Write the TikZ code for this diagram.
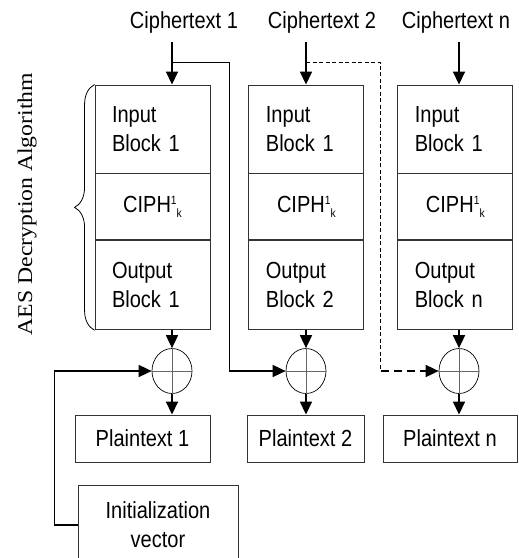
\documentclass[tikz,border=0pt]{standalone}
\usepackage{fontspec}
\newfontfamily\arialf{Liberation Sans}[FakeStretch=0.86]
\newfontfamily\timesf{Liberation Serif}[FakeStretch=1.13]
\usetikzlibrary{positioning,calc,shapes.geometric,arrows.meta,decorations.pathreplacing}
\newcommand{\ciphk}{CIPH\raisebox{8pt}{\fontsize{12}{12}\selectfont 1}\raisebox{-5pt}{\fontsize{12}{12}\selectfont k}}
\tikzset{txt/.style = {font=\arialf\fontsize{23.3}{28.7}\selectfont}}
\tikzset{cell/.style = {txt, draw=black!80, line width=0.9pt, rectangle, inner ysep=0pt, inner xsep=17pt, minimum width=115pt, text width=81pt, align=left}}
\tikzset{pbox/.style = {txt, draw=black!80, line width=0.9pt, rectangle, inner sep=0pt, minimum height=47pt, align=center}}
\tikzset{xorc/.style = {draw, ellipse, inner sep=0pt, minimum width=40pt, minimum height=45pt, line width=0.7pt}}
\tikzset{line/.style = {line width=0.8pt}}
\tikzset{arr/.style = {line width=1.6pt, -{Triangle[length=13pt,width=12pt]}}}

\begin{document}
\begin{tikzpicture}[x=1pt,y=-1pt]
\clip (0,0) rectangle (519,558);
\node[cell, minimum height=88pt] (in1) at (152.5,129) {Input\\Block 1};
\node[cell, minimum height=66pt, align=center, below=0pt of in1] (ciph1) {\ciphk};
\node[cell, minimum height=89pt, below=0pt of ciph1] (out1) {Output\\Block 1};
\node[cell, minimum height=88pt, right=38pt of in1] (in2) {Input\\Block 1};
\node[cell, minimum height=66pt, align=center, below=0pt of in2] (ciph2) {\ciphk};
\node[cell, minimum height=89pt, below=0pt of ciph2] (out2) {Output\\Block 2};
\node[cell, minimum height=88pt, right=33pt of in2] (inn) {Input\\Block 1};
\node[cell, minimum height=66pt, align=center, below=0pt of inn] (ciphn) {\ciphk};
\node[cell, minimum height=89pt, below=0pt of ciphn] (outn) {Output\\Block n};

\node[txt, inner sep=0pt] (ct1) at (184,22) {Ciphertext 1};
\node[txt, inner sep=0pt] (ct2) at (322,22) {Ciphertext 2};
\node[txt, inner sep=0pt] (ctn) at (456,22) {Ciphertext n};

\node[xorc] (x1) at (172,371) {};
\node[xorc] (x2) at (306,371) {};
\node[xorc] (xn) at (459,371) {};
\foreach \x in {x1,x2,xn}
  \draw[black!60, line width=0.7pt] (\x.north) -- (\x.south) (\x.west) -- (\x.east);

\node[pbox, minimum width=135pt] (pt1) at (142.5,438.5) {Plaintext 1};
\node[pbox, minimum width=117pt] (pt2) at (305.5,438.5) {Plaintext 2};
\node[pbox, minimum width=134pt] (ptn) at (450,438.5) {Plaintext n};
\node[pbox, minimum width=160pt, minimum height=80pt] (iv) at (158,525) {Initialization\\vector};

\node[rotate=90, font=\timesf\fontsize{21}{21}\selectfont] (aes) at (27,204) {AES Decryption Algorithm};
\draw[line, decorate, decoration={brace, amplitude=20pt}] (out1.south west) -- (in1.north west);

\foreach \c/\x/\i/\o/\p in {ct1/x1/in1/out1/pt1, ct2/x2/in2/out2/pt2, ctn/xn/inn/outn/ptn} {
  \draw[arr] ($(\c.south -| \x)+(0,9)$) -- (\i.north -| \x);
  \draw[arr] (\o.south -| \x) -- (\x.north);
  \draw[arr] (\x.south) -- (\p.north -| \x);
}

\coordinate (tap1) at ($(in1.north -| x1)+(0,-22)$);
\coordinate (tap2) at ($(in2.north -| x2)+(0,-22)$);
\coordinate (g1) at ($(in1.north east)!0.5!(in2.north west)$);
\coordinate (g2) at ($(in2.north east)!0.5!(inn.north west)$);
\draw[line] (tap1) -| (x2 -| g1);
\draw[arr] (x2 -| g1) -- (x2.west);
\draw[line, dash pattern=on 4pt off 2.5pt] (tap2) -| (xn -| g2);
\draw[arr, dash pattern=on 8pt off 5pt] (xn -| g2) -- (xn.west);
\draw[arr] (iv.west) -- ++(-23,0) |- (x1.west);
\end{tikzpicture}
\end{document}
